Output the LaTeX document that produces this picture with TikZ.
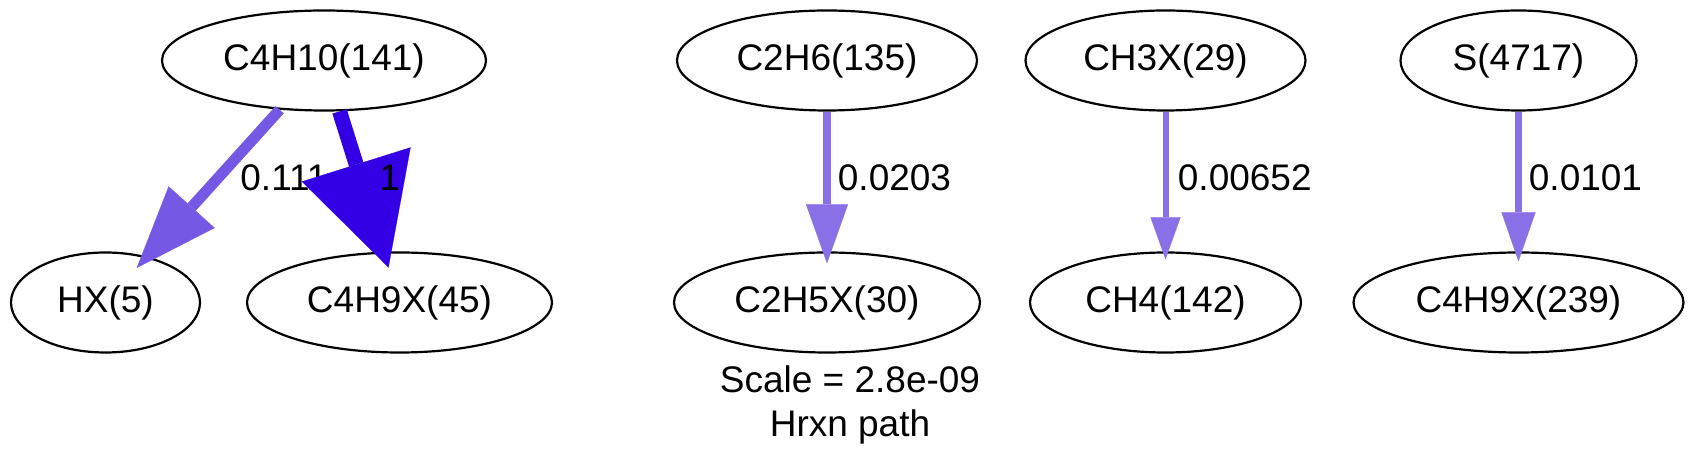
\documentclass[tikz,border=0pt]{standalone}
\usepackage{fontspec}
\setmainfont{Liberation Sans}
\usetikzlibrary{shapes.geometric,arrows.meta}
\definecolor{fluxlow}{HTML}{8970E6}
\definecolor{fluxmid}{HTML}{7558E3}
\definecolor{fluxhigh}{HTML}{3300E6}

\begin{document}
\begin{tikzpicture}[x=0.5pt,y=-0.5pt,
    every node/.style={font=\fontsize{18.5}{22}\selectfont},
    species/.style={ellipse,draw,line width=1.1pt,inner sep=0pt,minimum height=50pt},
    fluxlabel/.style={anchor=base west,inner sep=0pt}]
\useasboundingbox (0,0) rectangle (1696,469);

\node[species,minimum width=162pt] (c4h10) at (324,60.5) {C4H10(141)};
\node[species,minimum width=150pt] (c2h6) at (827,60.5) {C2H6(135)};
\node[species,minimum width=140pt] (ch3x) at (1165.5,60.5) {CH3X(29)};
\node[species,minimum width=118pt] (s4717) at (1518.5,60.5) {S(4717)};
\node[species,minimum width=94.5pt] (hx) at (105.5,302.5) {HX(5)};
\node[species,minimum width=152.5pt] (c4h9x45) at (399.5,302.5) {C4H9X(45)};
\node[species,minimum width=153pt] (c2h5x) at (827,302.5) {C2H5X(30)};
\node[species,minimum width=135.5pt] (ch4) at (1165.5,302.5) {CH4(142)};
\node[species,minimum width=165pt] (c4h9x239) at (1518.5,302.5) {C4H9X(239)};

\draw[fluxmid,line width=5.5pt,-{Triangle[length=41pt,width=31pt,line width=0.1pt]},shorten >=-7.75pt] (c4h10.228) -- (hx);
\node[fluxlabel] (f1) at (240,191) {0.111};
\draw[fluxhigh,line width=7.5pt,-{Triangle[length=54pt,width=57pt,line width=0.1pt]},shorten >=-8.3pt] (c4h10.287) -- (c4h9x45);
\node[fluxlabel] (f2) at (379,191) {1};

\draw[fluxlow,line width=4pt,-{Triangle[length=29.5pt,width=21pt,line width=0.1pt]},shorten >=-6pt] (c2h6) -- (c2h5x);
\node[fluxlabel] (f3) at (837.5,191) {0.0203};
\draw[fluxlow,line width=3pt,-{Triangle[length=21pt,width=15pt,line width=0.1pt]},shorten >=-4pt] (ch3x) -- (ch4);
\node[fluxlabel] (f4) at (1177.5,191) {0.00652};
\draw[fluxlow,line width=3.5pt,-{Triangle[length=24.5pt,width=17pt,line width=0.1pt]},shorten >=-5pt] (s4717) -- (c4h9x239);
\node[fluxlabel] (f5) at (1528.5,191) {0.0101};

\node[anchor=base] (scale) at (850,393) {Scale = 2.8e-09};
\node[anchor=base] (title) at (850,437) {Hrxn path};
\end{tikzpicture}
\end{document}
